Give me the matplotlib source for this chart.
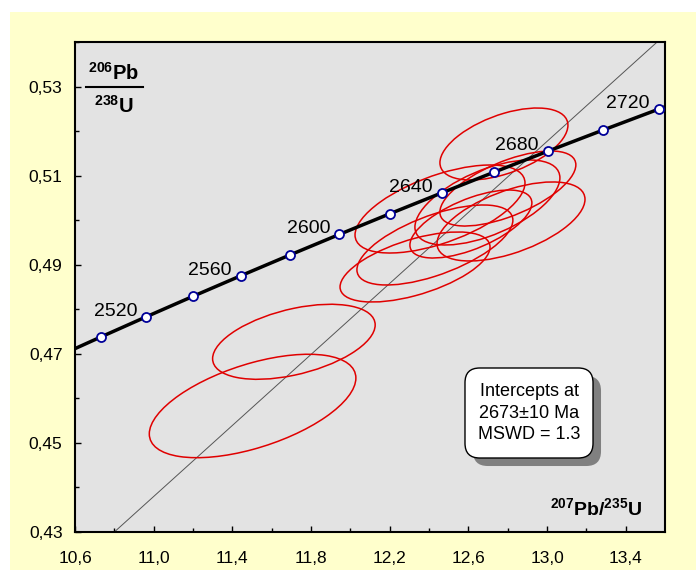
import numpy as np
import matplotlib
matplotlib.use('Agg')
import matplotlib.pyplot as plt
from matplotlib.patches import Circle, Rectangle, FancyBboxPatch
from matplotlib.transforms import Affine2D
from matplotlib.lines import Line2D

plt.rcParams['font.family'] = ['Liberation Sans', 'DejaVu Sans']
plt.rcParams['mathtext.fontset'] = 'custom'
plt.rcParams['mathtext.rm'] = 'Liberation Sans'
plt.rcParams['mathtext.bf'] = 'Liberation Sans:bold'

# concordia points (Ma, 207Pb/235U, 206Pb/238U)
conc_age = [2480, 2500, 2520, 2540, 2560, 2580, 2600, 2620, 2640, 2660, 2680, 2700, 2720, 2740]
conc_x = [10.5009, 10.7297, 10.9631, 11.2010, 11.4437, 11.6912, 11.9437, 12.2011,
          12.4638, 12.7316, 13.0047, 13.2833, 13.5674, 13.8572]
conc_y = [0.46919, 0.47375, 0.47833, 0.48293, 0.48754, 0.49216, 0.49680, 0.50145,
          0.50611, 0.51079, 0.51549, 0.52020, 0.52492, 0.52966]
label_ages = [2520, 2560, 2600, 2640, 2680, 2720]

# discordia reference line
disc_x = [10.80, 13.56]
disc_y = [0.43, 0.54]

# error ellipses: centre, half extents, correlation
ell_x = [11.503, 11.713, 12.781, 12.456, 12.697, 12.801, 12.817, 12.613, 12.430, 12.329]
ell_y = [0.45829, 0.47270, 0.51710, 0.50251, 0.50397, 0.50711, 0.49971, 0.49914, 0.49443, 0.48949]
ell_hx = [0.5252, 0.4133, 0.3254, 0.4321, 0.3686, 0.3457, 0.3762, 0.3101, 0.3965, 0.3813]
ell_hy = [0.01161, 0.00842, 0.00808, 0.00988, 0.00954, 0.00842, 0.00887, 0.00763, 0.00898, 0.00786]
ell_rho = [0.54, 0.45, 0.52, 0.59, 0.58, 0.63, 0.56, 0.62, 0.62, 0.57]

x_ticks = [10.6, 11.0, 11.4, 11.8, 12.2, 12.6, 13.0, 13.4]
y_ticks = [0.43, 0.45, 0.47, 0.49, 0.51, 0.53]

fig = plt.figure(figsize=(6.96, 5.70), dpi=100)
fig.patch.set_facecolor('white')
fig.patches.append(Rectangle((10/696, 0), 1 - 10/696, 1 - 12/570, transform=fig.transFigure,
                             facecolor='#FFFFCC', edgecolor='none', zorder=-10))

ax = fig.add_axes([75/696, 38/570, 590/696, 490/570])
ax.set_facecolor('#E3E3E3')
ax.set_xlim(10.6, 13.6)
ax.set_ylim(0.43, 0.54)

ax.plot(disc_x, disc_y, color='#555555', lw=0.7, zorder=2)

for cx, cy, hx, hy, r in zip(ell_x, ell_y, ell_hx, ell_hy, ell_rho):
    tr = Affine2D.from_values(hx, r*hy, 0, hy*np.sqrt(1 - r*r), cx, cy) + ax.transData
    ax.add_patch(Circle((0, 0), 1, transform=tr, fill=False, edgecolor='#E00000', lw=1.1, zorder=3))

ax.plot(conc_x, conc_y, color='black', lw=2.5, zorder=4, solid_capstyle='butt')
ax.plot(conc_x[1:-1], conc_y[1:-1], 'o', ms=6.5, mfc='white', mec='#000099', mew=1.3, zorder=5)
for a, x, y in zip(conc_age, conc_x, conc_y):
    if a in label_ages:
        ax.annotate(str(a), (x, y), xytext=(-9, 1), textcoords='offset pixels',
                    ha='right', va='baseline', fontsize=14, zorder=6)

ax.set_xticks(x_ticks)
ax.set_xticklabels([('%.1f' % v).replace('.', ',') for v in x_ticks])
ax.set_yticks(y_ticks)
ax.set_yticklabels([('%.2f' % v).replace('.', ',') for v in y_ticks])
ax.set_xticks(np.arange(10.8, 13.6, 0.4), minor=True)
ax.set_yticks(np.arange(0.44, 0.54, 0.02), minor=True)
ax.tick_params(which='major', direction='in', length=4, width=1, labelsize=12.5)
ax.tick_params(axis='x', which='major', pad=14)
ax.tick_params(axis='y', which='major', pad=9)
ax.tick_params(which='minor', direction='in', length=3, width=1)
for s in ax.spines.values():
    s.set_linewidth(1.5)

# ratio label, top left
fig.text(114/696, 1 - 80/570, r'$\mathbf{^{206}Pb}$', ha='center', va='baseline', fontsize=14.5)
fig.text(114/696, 1 - 113/570, r'$\mathbf{^{238}U}$', ha='center', va='baseline', fontsize=14.5)
fig.lines.append(Line2D([86/696, 143/696], [1 - 87/570, 1 - 87/570], transform=fig.transFigure,
                        color='black', lw=1.5))
ax.text(1 - 23/590, 17/490, r'$\mathbf{^{207}Pb/^{235}U}$', transform=ax.transAxes,
        ha='right', va='baseline', fontsize=14)

# intercept box with shadow
bx, by, bw, bh = 0.661, 0.151, 0.217, 0.1837
asp = 590/490
ax.add_patch(FancyBboxPatch((bx + 8/590, by - 8/490), bw, bh, transform=ax.transAxes,
                            boxstyle='round,pad=0,rounding_size=0.025', mutation_aspect=asp,
                            fc='#808080', ec='none', zorder=7))
ax.add_patch(FancyBboxPatch((bx, by), bw, bh, transform=ax.transAxes,
                            boxstyle='round,pad=0,rounding_size=0.025', mutation_aspect=asp,
                            fc='white', ec='black', lw=1, zorder=8))
ax.text(bx + bw/2, by + bh/2, 'Intercepts at\n2673±10 Ma\nMSWD = 1.3', transform=ax.transAxes,
        ha='center', va='center', fontsize=13, linespacing=1.36, zorder=9)

fig.savefig('out.png', dpi=100, facecolor=fig.get_facecolor())
